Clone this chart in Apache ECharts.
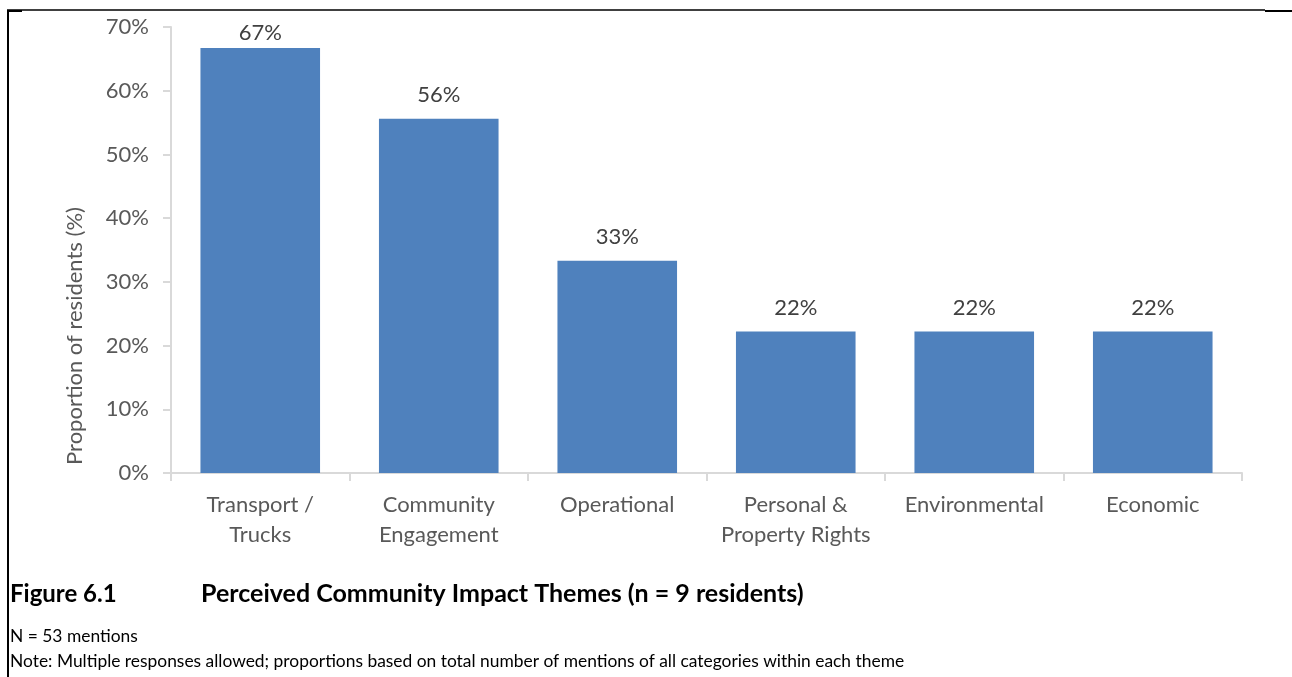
<!DOCTYPE html>
<html><head><meta charset="utf-8">
<script src="https://cdn.jsdelivr.net/npm/echarts@6/dist/echarts.min.js"></script>
<style>html,body{margin:0;padding:0;background:#fff}#c{width:1292px;height:677px}</style>
</head><body><div id="c"></div>
<script>
const categories = ["Transport /\nTrucks", "Community\nEngagement", "Operational", "Personal &\nProperty Rights", "Environmental", "Economic"];
const values = [66.7, 55.6, 33.3, 22.2, 22.2, 22.2];
const valueLabels = ["67%", "56%", "33%", "22%", "22%", "22%"];
const yTicks = [0, 10, 20, 30, 40, 50, 60, 70];
const axisTitle = "Proportion of residents (%)";
const figNum = "Figure 6.1";
const figTitle = "Perceived Community Impact Themes (n = 9 residents)";
const note1 = "N = 53 mentions";
const note2 = "Note: Multiple responses allowed; proportions based on total number of mentions of all categories within each theme";

const FONT = "Lato, 'Open Sans', sans-serif";
const yMax = yTicks[yTicks.length - 1];
// Labels near the top of the plot are pulled down to stay inside it (as in the original)
const barData = values.map(v => (yMax - v < 5 ? {value: v, label: {distance: 4}} : v));

const chart = echarts.init(document.getElementById('c'), null, {renderer: 'canvas'});
chart.setOption({
  animation: false,
  grid: {left: 171, right: 50, top: 27, bottom: 204, containLabel: false},
  xAxis: {
    type: 'category', data: categories,
    axisLine: {lineStyle: {color: '#d9d9d9', width: 2}},
    axisTick: {show: true, length: 8, lineStyle: {color: '#d9d9d9', width: 2}},
    axisLabel: {interval: 0, color: '#595959', fontSize: 22, fontFamily: FONT, lineHeight: 30, margin: 17}
  },
  yAxis: {
    type: 'value', min: yTicks[0], max: yMax, interval: 10,
    axisLine: {show: true, lineStyle: {color: '#d9d9d9', width: 2}},
    axisTick: {show: true, length: 8, lineStyle: {color: '#d9d9d9', width: 2}},
    splitLine: {show: false},
    axisLabel: {color: '#595959', fontSize: 22, fontFamily: FONT, margin: 22, formatter: v => v + '%'}
  },
  series: [{
    type: 'bar', data: barData, barCategoryGap: '33%',
    itemStyle: {color: '#4f81bd'},
    label: {show: true, position: 'top', distance: 13, color: '#404040', fontSize: 22, fontFamily: FONT,
      formatter: p => valueLabels[p.dataIndex]}
  }],
  graphic: [
    {type: 'line', shape: {x1: 7, y1: 10, x2: 1265, y2: 10}, style: {stroke: '#000', lineWidth: 1.5}},
    {type: 'line', shape: {x1: 7, y1: 11, x2: 22, y2: 11}, style: {stroke: '#000', lineWidth: 2}},
    {type: 'line', shape: {x1: 1265, y1: 11, x2: 1292, y2: 11}, style: {stroke: '#000', lineWidth: 2}},
    {type: 'line', shape: {x1: 8, y1: 10, x2: 8, y2: 677}, style: {stroke: '#000', lineWidth: 2}},
    {type: 'text', x: 75, y: 336, rotation: Math.PI / 2,
      style: {text: axisTitle, fill: '#595959', font: "22px Lato, 'Open Sans', sans-serif", align: 'center', verticalAlign: 'middle'}},
    {type: 'text', x: 10, y: 594, style: {text: figNum, fill: '#000', font: "bold 24px Lato, 'Open Sans', sans-serif", verticalAlign: 'middle'}},
    {type: 'text', x: 201, y: 594, style: {text: figTitle, fill: '#000', font: "bold 25px Lato, 'Open Sans', sans-serif", verticalAlign: 'middle'}},
    {type: 'text', x: 10, y: 636, style: {text: note1, fill: '#000', font: "17.4px Lato, 'Open Sans', sans-serif", verticalAlign: 'middle'}},
    {type: 'text', x: 10, y: 661, style: {text: note2, fill: '#000', font: "17.4px Lato, 'Open Sans', sans-serif", verticalAlign: 'middle'}}
  ]
});
</script></body></html>
